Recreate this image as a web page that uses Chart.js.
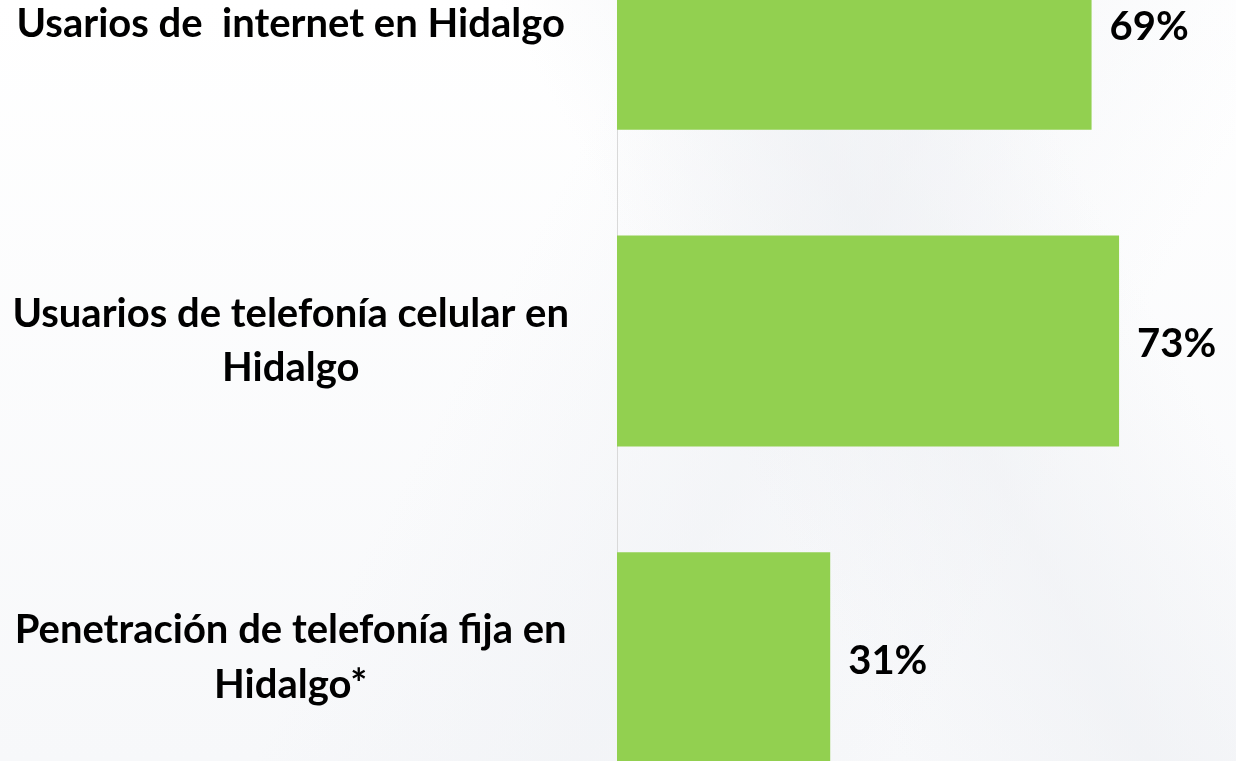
<!DOCTYPE html>
<html>
<head>
<meta charset="utf-8">
<script src="https://cdn.jsdelivr.net/npm/chart.js@4"></script>
<style>
  html, body { margin: 0; padding: 0; }
  body {
    width: 1236px;
    height: 761px;
    overflow: hidden;
    background:
      linear-gradient(62deg, rgba(255,255,255,0) 55%, rgba(236,238,242,0.5) 70%, rgba(255,255,255,0) 85%),
      linear-gradient(118deg, rgba(255,255,255,0) 40%, rgba(238,240,244,0.5) 60%, rgba(255,255,255,0) 80%),
      linear-gradient(180deg, #ffffff 0%, #f7f8fa 100%);
  }
  #frame { position: relative; width: 1236px; height: 761px; overflow: hidden; }
  #wrap { position: absolute; left: 0; top: -134px; width: 1236px; height: 950px; }
</style>
</head>
<body>
<div id="frame">
  <div id="wrap"><canvas id="chart"></canvas></div>
</div>
<script>
// Data

const categories = [
    ['Usarios de  internet en Hidalgo'],
    ['Usuarios de telefonía celular en', 'Hidalgo'],
    ['Penetración de telefonía fija en', 'Hidalgo*']
];
const values = [69, 73, 31];

const labelFont = {
    family: "'Lato', 'Open Sans', sans-serif",
    size: 40,
    weight: 'bold',
    lineHeight: 1.36
};

// Value labels at the end of each bar
const valueLabels = {
    id: 'valueLabels',
    afterDatasetsDraw(chart) {
        const ctx = chart.ctx;
        const meta = chart.getDatasetMeta(0);
        ctx.save();
        ctx.font = `bold ${labelFont.size}px ${labelFont.family}`;
        ctx.fillStyle = '#000000';
        ctx.textAlign = 'left';
        ctx.textBaseline = 'middle';
        meta.data.forEach((bar, i) => {
            ctx.fillText(`${values[i]}%`, bar.x + 18, bar.y + 3);
        });
        ctx.restore();
    }
};

new Chart(document.getElementById('chart'), {
    type: 'bar',
    data: {
        labels: categories,
        datasets: [
            {
                data: values,
                backgroundColor: '#92d050',
                borderWidth: 0,
                barPercentage: 0.666,
                categoryPercentage: 1
            }
        ]
    },
    options: {
        indexAxis: 'y',
        responsive: true,
        maintainAspectRatio: false,
        animation: false,
        layout: { padding: 0 },
        scales: {
            x: {
                display: false,
                min: 0,
                max: 90
            },
            y: {
                // fixed label column, no extra padding above/below the bars
                afterFit: scale => {
                    scale.width = 617;
                    scale.paddingTop = 0;
                    scale.paddingBottom = 0;
                },
                grid: { display: false, drawTicks: false },
                border: { display: true, color: '#d9d9d9', width: 1 },
                ticks: {
                    crossAlign: 'center',
                    padding: 48,
                    color: '#000000',
                    font: labelFont
                }
            }
        },
        plugins: {
            legend: { display: false },
            tooltip: { enabled: false }
        }
    },
    plugins: [valueLabels]
});
</script>
</body>
</html>
